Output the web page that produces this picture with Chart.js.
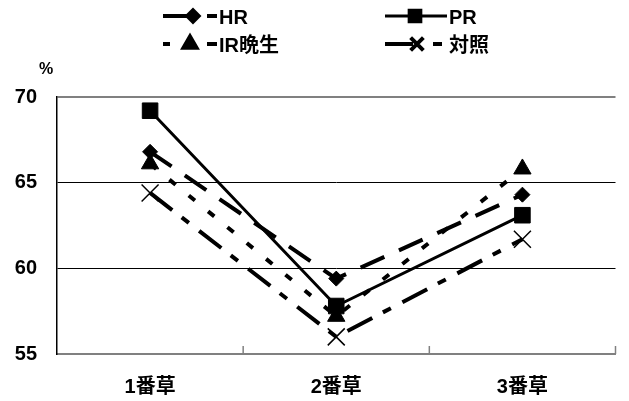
<!DOCTYPE html>
<html>
<head>
<meta charset="utf-8">
<script src="https://cdn.jsdelivr.net/npm/chart.js@4/dist/chart.umd.min.js"></script>
<style>
  html, body { margin: 0; padding: 0; background: #fff; }
  #wrap { width: 629px; height: 401px; }
</style>
</head>
<body>
<div id="wrap"><canvas id="chart" width="629" height="401"></canvas></div>
<script>
const categories = ['1番草', '2番草', '3番草'];
const hrValues = [66.8, 59.4, 64.3];
const prValues = [69.2, 57.8, 63.1];
const irValues = [66.1, 57.2, 65.8];
const controlValues = [64.4, 56.0, 61.7];
const yTicks = [55, 60, 65, 70];

const FONT = '"Liberation Sans", Arial, "Noto Sans CJK JP", sans-serif';

const seriesStyle = [
    { label: 'HR', data: hrValues, dash: [26, 16], point: 'rectRot', radius: 7.5, width: 4,
      legend: { x1: 163, x2: 217, px: 193, y: 16, tx: 219, dash: [24, 20, 10, 100] } },
    { label: 'PR', data: prValues, dash: [], point: 'rect', radius: 11, width: 3,
      legend: { x1: 385, x2: 447, px: 415, y: 16, tx: 449, dash: [] } },
    { label: 'IR晩生', data: irValues, dash: [8, 17], point: 'triangle', radius: 10, width: 4,
      legend: { x1: 163, x2: 217, px: 190, y: 44, tx: 219, dash: [7, 37, 10, 100] } },
    { label: '対照', data: controlValues, dash: [28, 12, 9, 13], point: 'crossRot', radius: 12, width: 4,
      legend: { x1: 385, x2: 442, px: 417, y: 44, tx: 449, dash: [28, 20, 9, 100] } }
];

// legend, "%" label and inner x ticks
const extras = {
    id: 'extras',
    afterDraw(chart) {
        const ctx = chart.ctx;
        const area = chart.chartArea;
        const x = chart.scales.x;
        ctx.save();
        // small tick marks at category boundaries
        ctx.strokeStyle = '#808080';
        ctx.lineWidth = 1.5;
        for (let i = 1; i <= categories.length; i++) {
            const bx = i < categories.length
                ? (x.getPixelForTick(i - 1) + x.getPixelForTick(i)) / 2
                : area.right;
            ctx.beginPath();
            ctx.moveTo(bx, area.bottom - 8);
            ctx.lineTo(bx, area.bottom);
            ctx.stroke();
        }
        // unit
        ctx.fillStyle = '#000';
        ctx.font = 'bold 16px ' + FONT;
        ctx.textAlign = 'center';
        ctx.textBaseline = 'middle';
        ctx.fillText('%', 46, 70);
        // legend
        seriesStyle.forEach(s => {
            const l = s.legend;
            ctx.strokeStyle = '#000';
            ctx.lineWidth = s.width;
            ctx.setLineDash(l.dash);
            ctx.beginPath();
            ctx.moveTo(l.x1, l.y);
            ctx.lineTo(l.x2, l.y);
            ctx.stroke();
            ctx.setLineDash([]);
            ctx.fillStyle = '#000';
            Chart.helpers.drawPoint(ctx, {
                pointStyle: s.point,
                radius: s.radius * 0.75,
                borderWidth: s.point === 'crossRot' ? 1.5 : 1
            }, l.px, l.y);
            ctx.font = 'bold 20px ' + FONT;
            ctx.textAlign = 'left';
            ctx.textBaseline = 'middle';
            ctx.fillText(s.label, l.tx, l.y + 2);
        });
        ctx.restore();
    }
};

new Chart(document.getElementById('chart').getContext('2d'), {
    type: 'line',
    data: {
        labels: categories,
        datasets: seriesStyle.map(s => ({
            label: s.label,
            data: s.data,
            borderColor: '#000',
            backgroundColor: '#000',
            borderWidth: s.width,
            borderDash: s.dash,
            pointStyle: s.point,
            pointRadius: s.radius,
            pointBorderWidth: s.point === 'crossRot' ? 1.5 : 1,
            pointBorderColor: '#000',
            pointBackgroundColor: '#000',
            tension: 0,
            fill: false
        }))
    },
    plugins: [extras],
    options: {
        responsive: false,
        animation: false,
        layout: { padding: { top: 97, right: 6, left: 0, bottom: 0 } },
        plugins: {
            legend: { display: false },
            tooltip: { enabled: false }
        },
        scales: {
            x: {
                offset: true,
                afterFit: scale => { scale.height = 47; },
                grid: { display: false, drawTicks: false },
                border: { color: '#808080', width: 2 },
                ticks: {
                    color: '#000',
                    padding: 21,
                    font: { family: FONT, size: 20, weight: 'bold' }
                }
            },
            y: {
                min: 55,
                max: 70,
                afterFit: scale => { scale.width = 57; },
                afterBuildTicks: scale => { scale.ticks = yTicks.map(v => ({ value: v })); },
                grid: {
                    drawTicks: false,
                    color: c => c.tick && c.tick.value === 70 ? '#808080' : '#000',
                    lineWidth: c => c.tick && c.tick.value === 70 ? 2 : 1
                },
                border: { color: '#000', width: 1.5 },
                ticks: {
                    color: '#000',
                    padding: 20,
                    font: { family: FONT, size: 20, weight: 'bold' }
                }
            }
        }
    }
});
</script>
</body>
</html>
